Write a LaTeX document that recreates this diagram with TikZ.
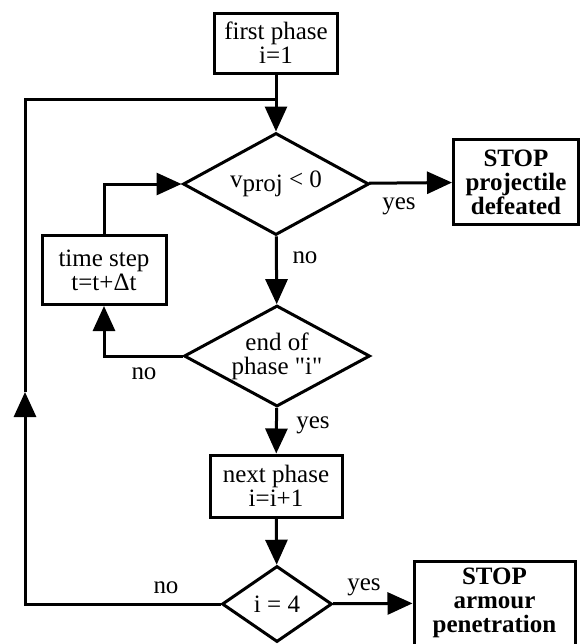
\documentclass[tikz,border=0pt]{standalone}
\usepackage{fontspec}
\setmainfont{Liberation Serif}[Ligatures=TeXOff]
\usetikzlibrary{shapes.geometric,arrows.meta}

\begin{document}
\begin{tikzpicture}[
        x=0.5pt, y=-0.5pt,
        every node/.style={
            font=\fontsize{12.5}{12}\selectfont
        },
        box/.style={
            draw,
            line width=1.5pt,
            inner sep=0pt,
            align=center
        },
        stopbox/.style={
            box,
            font=\fontsize{12.5}{12}\selectfont\bfseries
        },
        decision/.style={
            draw,
            diamond,
            aspect=1.8,
            line width=1.5pt,
            inner sep=0pt,
            align=center
        },
        flow/.style={
            line width=1.5pt
        },
        arr/.style={
            flow,
            -{Triangle[length=12.5pt,width=11pt]}
        },
        lbl/.style={
            inner sep=0pt
        }
    ]
        \useasboundingbox (0,0) rectangle (580,644);

        % Boxes
        \node[box, minimum width=61.5pt, minimum height=30pt] (first) at (276,43) {first phase\\i=1};
        \node[box, minimum width=62pt, minimum height=34.5pt] (tstep) at (104,270) {time step\\t=t+Δt};
        \node[box, minimum width=66pt, minimum height=31pt] (next) at (276,486) {next phase\\i=i+1};

        % Decisions
        \node[decision, minimum width=93pt, minimum height=51pt] (vproj) at (276,184) {v\raisebox{-0.4ex}{proj} < 0};
        \node[decision, minimum width=93pt, minimum height=50.5pt] (endph) at (277,356) {end of\\phase "i"};
        \node[decision, minimum width=55pt, minimum height=38pt] (ifour) at (277,604) {i = 4};

        % Stop boxes
        \node[stopbox, minimum width=62.5pt, minimum height=42.5pt] (stopproj) at (516,182) {STOP\\projectile\\defeated};
        \node[stopbox, minimum width=80.5pt, minimum height=42pt] (stoparm) at (494.5,603) {STOP\\armour\\penetration};

        % Loop corners
        \coordinate (loopbot) at (25,604);
        \coordinate (loopmid) at (25,392);
        \coordinate (looptop) at (25,99);
        \coordinate (join) at (276,99);

        % Connectors
        \draw[arr] (first) -- (vproj);
        \draw[arr] (vproj) -- (stopproj);
        \draw[arr] (vproj) -- (endph);
        \draw[arr] (endph.west) -| (tstep.south);
        \draw[arr] (tstep.north) |- (vproj.west);
        \draw[arr] (endph) -- (next);
        \draw[arr] (next) -- (ifour);
        \draw[arr] (ifour) -- (stoparm);
        \draw[arr] (ifour.west) -- (loopbot) -- (loopmid);
        \draw[flow] (loopmid) -- (looptop) -- (join);

        % Labels
        \node[lbl] (yes1) at (399,206) {yes};
        \node[lbl] (no1) at (305,258) {no};
        \node[lbl] (no2) at (144,374) {no};
        \node[lbl] (yes2) at (313,425) {yes};
        \node[lbl] (no3) at (166,588) {no};
        \node[lbl] (yes3) at (364,587) {yes};

    \end{tikzpicture}
\end{document}
